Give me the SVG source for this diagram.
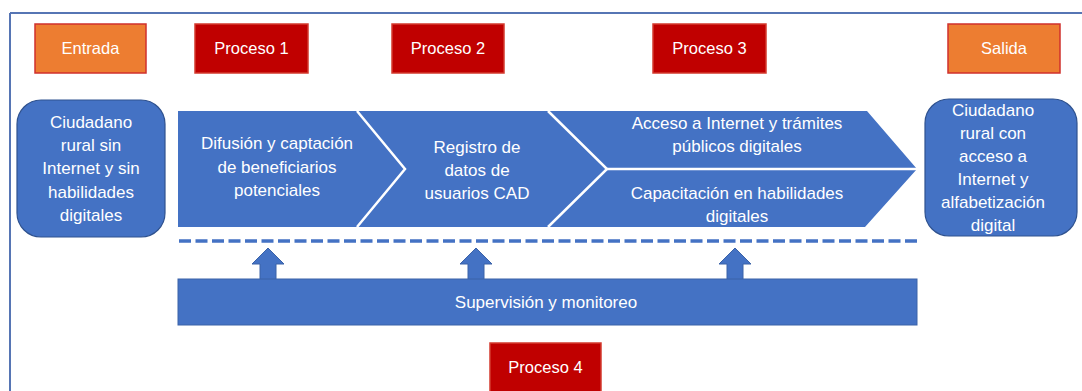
<svg xmlns="http://www.w3.org/2000/svg" width="1082" height="391" viewBox="0 0 1082 391">
<style>
.lbl{font-family:"Liberation Sans","Open Sans",sans-serif;font-size:17px;fill:#ffffff;text-anchor:middle}
.hdr{font-family:"Liberation Sans","Open Sans",sans-serif;font-size:16.5px;fill:#ffffff;text-anchor:middle}
.red{fill:#C00000;stroke:#D33A2E;stroke-width:1.5}
.org{fill:#ED7D31;stroke:#D0312D;stroke-width:1.5}
.blue{fill:#4472C4}
.rbox{fill:#4472C4;stroke:#2F528F;stroke-width:1.2}
.sep{stroke:#ffffff;stroke-width:2.5;fill:none}
</style>
<rect x="0" y="0" width="1082" height="391" fill="#ffffff"/>
<g id="frame">
<line x1="10" y1="13" x2="1082" y2="13" stroke="#5675B4" stroke-width="2"/>
<line x1="10" y1="13" x2="10" y2="391" stroke="#5675B4" stroke-width="2"/>
</g>
<g id="entrada"><rect class="org" x="35" y="24" width="111" height="49"/><text class="hdr" x="90.5" y="54">Entrada</text></g>
<g id="proceso1"><rect class="red" x="195" y="24" width="113" height="49"/><text class="hdr" x="251.5" y="54">Proceso 1</text></g>
<g id="proceso2"><rect class="red" x="392" y="24" width="112" height="49"/><text class="hdr" x="448" y="54">Proceso 2</text></g>
<g id="proceso3"><rect class="red" x="653" y="24" width="113" height="49"/><text class="hdr" x="709.5" y="54">Proceso 3</text></g>
<g id="salida"><rect class="org" x="948" y="24" width="112" height="49"/><text class="hdr" x="1004" y="54">Salida</text></g>
<g id="input">
<rect class="rbox" x="17" y="100" width="148" height="137" rx="24"/>
<text class="lbl" x="91" y="128">Ciudadano</text>
<text class="lbl" x="91" y="151">rural sin</text>
<text class="lbl" x="91" y="174">Internet y sin</text>
<text class="lbl" x="91" y="198">habilidades</text>
<text class="lbl" x="91" y="221">digitales</text>
</g>
<g id="output">
<rect class="rbox" x="925" y="99" width="152" height="137" rx="24"/>
<text class="lbl" x="993" y="116">Ciudadano</text>
<text class="lbl" x="993" y="139">rural con</text>
<text class="lbl" x="993" y="162">acceso a</text>
<text class="lbl" x="993" y="185">Internet y</text>
<text class="lbl" x="993" y="208">alfabetización</text>
<text class="lbl" x="993" y="231">digital</text>
</g>
<g id="chevron1">
<polygon class="blue" points="178,111 357,111 405,169 357,227 178,227"/>
<text class="lbl" x="277" y="149">Difusión y captación</text>
<text class="lbl" x="277" y="173">de beneficiarios</text>
<text class="lbl" x="277" y="196">potenciales</text>
</g>
<g id="chevron2">
<polygon class="blue" points="357,111 548,111 607,169 548,227 357,227 405,169"/>
<text class="lbl" x="477" y="153">Registro de</text>
<text class="lbl" x="477" y="176">datos de</text>
<text class="lbl" x="477" y="199">usuarios CAD</text>
</g>
<g id="chevron3">
<polygon class="blue" points="548,111 867,111 917,169 865,227 548,227 607,169"/>
<text class="lbl" x="737" y="129">Acceso a Internet y trámites</text>
<text class="lbl" x="737" y="152">públicos digitales</text>
<text class="lbl" x="737" y="199">Capacitación en habilidades</text>
<text class="lbl" x="737" y="222">digitales</text>
</g>
<g id="connectors">
<path class="sep" d="M357,111 L405,169 L357,227"/>
<path class="sep" d="M548,111 L607,169 L548,227"/>
<line class="sep" x1="607" y1="169" x2="917" y2="169"/>
<line x1="179" y1="241" x2="917" y2="241" stroke="#4472C4" stroke-width="3.5" stroke-dasharray="12,4.5"/>
<polygon class="blue" stroke="#3A62A8" stroke-width="1" points="260,280 260,264 252,264 268,248 284,264 276,264 276,280"/>
<polygon class="blue" stroke="#3A62A8" stroke-width="1" points="468,280 468,264 460,264 476,248 492,264 484,264 484,280"/>
<polygon class="blue" stroke="#3A62A8" stroke-width="1" points="727,280 727,264 719,264 735,248 751,264 743,264 743,280"/>
</g>
<g id="supervision">
<rect class="blue" stroke="#3A62A8" stroke-width="1" x="178" y="279" width="739" height="46"/>
<text class="lbl" x="546" y="308">Supervisión y monitoreo</text>
</g>
<g id="proceso4"><rect class="red" x="490" y="343" width="111" height="50"/><text class="hdr" x="545.5" y="373">Proceso 4</text></g>
</svg>
